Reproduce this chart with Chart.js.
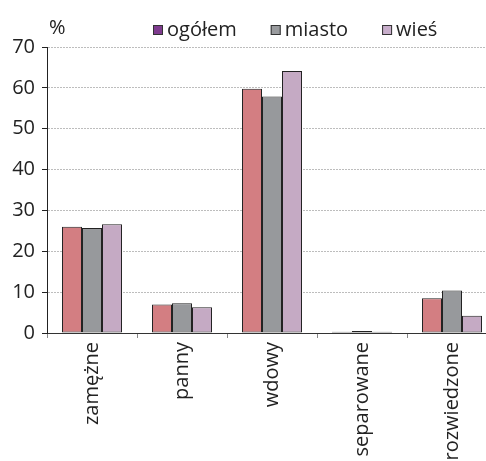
<!DOCTYPE html>
<html>
<head>
<meta charset="utf-8">
<script src="https://cdn.jsdelivr.net/npm/chart.js@4"></script>
<style>
  html, body { margin: 0; overflow: hidden; background: #fff; }
  #wrap { width: 498px; height: 461px; }
</style>
</head>
<body>
<div id="wrap"><canvas id="chart"></canvas></div>
<script>
const categories = ['zamężne', 'panny', 'wdowy', 'separowane', 'rozwiedzone'];
const seriesNames = ['ogółem', 'miasto', 'wieś'];
const ogolem = [26.0, 7.0, 59.8, 0.3, 8.5];
const miasto = [25.7, 7.3, 57.9, 0.5, 10.4];
const wies = [26.6, 6.3, 64.1, 0.3, 4.2];
const yTicks = [0, 10, 20, 30, 40, 50, 60, 70];

const barColors = ['#D37E82', '#97999C', '#C5AAC4'];
const legendColors = ['#7E3B8E', '#999B9E', '#C8AECB'];
const font = '"Open Sans", sans-serif';

// legend + "%" label drawn by hand, the built-in legend can't space items like this
const header = {
    id: 'header',
    afterDraw(chart) {
        const c = chart.ctx;
        c.save();
        c.font = '20px ' + font;
        c.fillStyle = '#222';
        c.fillText('%', 49, 34);
        let x = 153;
        chart.data.datasets.forEach((ds, i) => {
            c.fillStyle = legendColors[i];
            c.fillRect(x, 25, 10, 10);
            c.strokeStyle = '#333';
            c.lineWidth = 1;
            c.strokeRect(x + 0.5, 25.5, 9, 9);
            c.fillStyle = '#222';
            c.fillText(ds.label, x + 14, 36);
            x += 14 + c.measureText(ds.label).width + 34;
        });
        c.restore();
    }
};

const series = [ogolem, miasto, wies];

new Chart(document.getElementById('chart'), {
    type: 'bar',
    data: {
        labels: categories,
        datasets: series.map((vals, i) => ({
            label: seriesNames[i],
            data: vals,
            backgroundColor: barColors[i],
            borderColor: '#222',
            borderWidth: 1,
            borderSkipped: false,
            barPercentage: 1,
            categoryPercentage: 0.667
        }))
    },
    options: {
        responsive: true,
        maintainAspectRatio: false,
        animation: false,
        layout: { padding: { top: 47, right: 1, left: 0, bottom: 0 } },
        plugins: {
            legend: { display: false },
            tooltip: { enabled: false }
        },
        scales: {
            x: {
                afterFit: s => { s.height = 128; },
                border: { color: '#333', width: 1 },
                grid: {
                    drawOnChartArea: false,
                    tickLength: 5,
                    tickColor: '#888'
                },
                ticks: {
                    minRotation: 90,
                    maxRotation: 90,
                    padding: 4,
                    color: '#222',
                    font: { family: font, size: 20 }
                }
            },
            y: {
                min: 0,
                max: 70,
                afterFit: s => { s.width = 47; },
                afterBuildTicks: s => { s.ticks = yTicks.map(v => ({ value: v })); },
                border: { color: '#222', width: 1, dash: [2, 1] },
                grid: {
                    color: c => c.tick && c.tick.value === 0 ? 'rgba(0,0,0,0)' : '#bdbdbd',
                    tickColor: '#222',
                    tickLength: 5,
                    tickBorderDash: []
                },
                ticks: {
                    padding: 7,
                    color: '#222',
                    font: { family: font, size: 20 }
                }
            }
        }
    },
    plugins: [header]
});
</script>
</body>
</html>
